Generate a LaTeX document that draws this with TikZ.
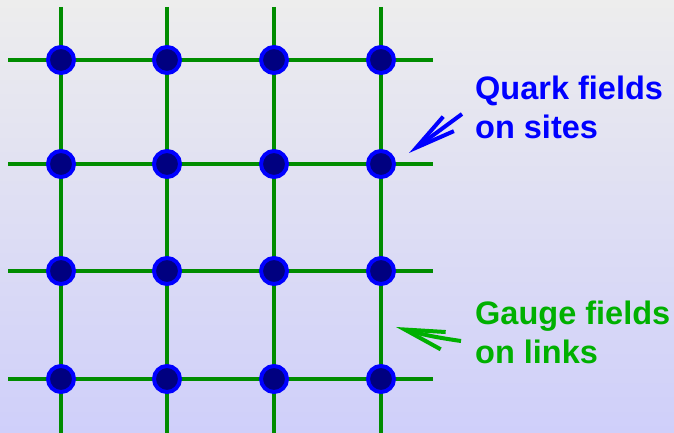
\documentclass[tikz,border=0pt]{standalone}
\usepackage{fontspec}
\setsansfont{Liberation Sans}[BoldFont={Liberation Sans Bold}]
\usetikzlibrary{arrows.meta, positioning, calc}
\definecolor{SiteBlue}{RGB}{0, 0, 255}
\definecolor{SiteFill}{RGB}{0, 0, 128}
\definecolor{LinkGreen}{RGB}{0, 140, 0}
\definecolor{LabelGreen}{RGB}{0, 176, 0}
\definecolor{TopGray}{RGB}{237, 237, 237}
\definecolor{BottomLilac}{RGB}{207, 207, 250}

\begin{document}
\begin{tikzpicture}[x=1pt, y=1pt,
    site/.style={circle, draw=SiteBlue, line width=4pt, fill=SiteFill, minimum size=26pt, inner sep=0pt},
    link/.style={LinkGreen, line width=3.2pt},
    pointer/.style={line width=4pt, -{Straight Barb[length=40pt, width=18pt]}},
    fieldtext/.style={anchor=base west, inner sep=0pt, align=left, font=\fontsize{32.5}{39}\selectfont\sffamily\bfseries}]
    \shade[top color=TopGray, bottom color=BottomLilac] (0,0) rectangle (674,433);
    \useasboundingbox (0,0) rectangle (674,433);

    % ends of the links
    \coordinate (top1) at (61,426);  \coordinate (bot1) at (61,0);
    \coordinate (top2) at (167,426); \coordinate (bot2) at (167,0);
    \coordinate (top3) at (274,426); \coordinate (bot3) at (274,0);
    \coordinate (top4) at (381,426); \coordinate (bot4) at (381,0);
    \coordinate (left1) at (8,373);  \coordinate (right1) at (433,373);
    \coordinate (left2) at (8,269);  \coordinate (right2) at (433,269);
    \coordinate (left3) at (8,162);  \coordinate (right3) at (433,162);
    \coordinate (left4) at (8,54);   \coordinate (right4) at (433,54);

    \draw[link] (top1) -- (bot1);
    \draw[link] (top2) -- (bot2);
    \draw[link] (top3) -- (bot3);
    \draw[link] (top4) -- (bot4);
    \draw[link] (left1) -- (right1);
    \draw[link] (left2) -- (right2);
    \draw[link] (left3) -- (right3);
    \draw[link] (left4) -- (right4);

    % sites
    \node[site] (s11) at (61,373) {};
    \node[site] (s12) at (167,373) {};
    \node[site] (s13) at (274,373) {};
    \node[site] (s14) at (381,373) {};
    \node[site] (s21) at (61,269) {};
    \node[site] (s22) at (167,269) {};
    \node[site] (s23) at (274,269) {};
    \node[site] (s24) at (381,269) {};
    \node[site] (s31) at (61,162) {};
    \node[site] (s32) at (167,162) {};
    \node[site] (s33) at (274,162) {};
    \node[site] (s34) at (381,162) {};
    \node[site] (s41) at (61,54) {};
    \node[site] (s42) at (167,54) {};
    \node[site] (s43) at (274,54) {};
    \node[site] (s44) at (381,54) {};

    % labels (anchored on the baseline of the second line)
    \node[fieldtext, SiteBlue] (quarklabel) at (475,294) {Quark fields\\on sites};
    \node[fieldtext, LabelGreen] (gaugelabel) at (475,69) {Gauge fields\\on links};

    \coordinate (quarktail) at (462,319);
    \coordinate (quarktip) at (409,280);
    \coordinate (gaugetail) at (461,92);
    \coordinate (gaugetip) at (396,106);
    \draw[pointer, SiteBlue] (quarktail) -- (quarktip);
    \draw[pointer, LabelGreen] (gaugetail) to[bend left=4] (gaugetip);
\end{tikzpicture}
\end{document}
